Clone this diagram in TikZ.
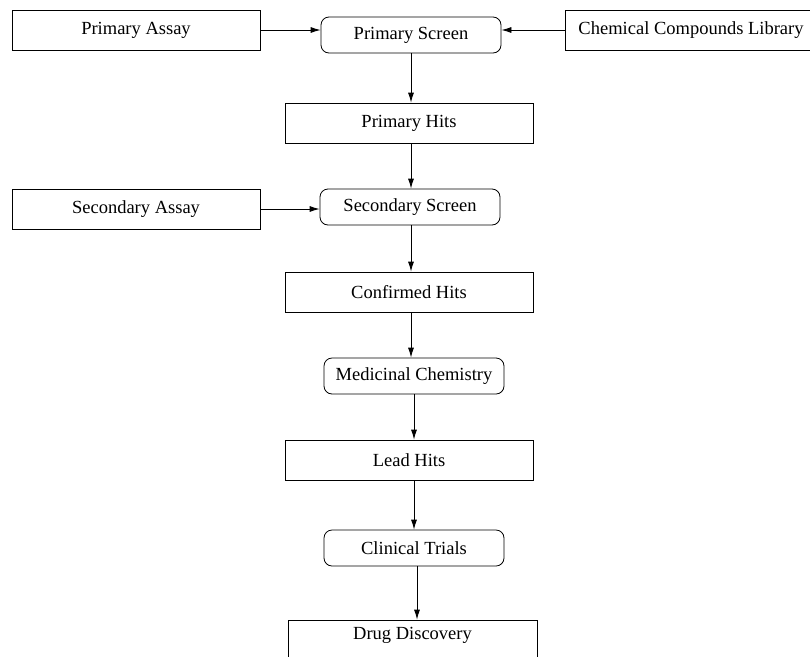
\documentclass[tikz,border=0pt]{standalone}
\usepackage{fontspec}
\setmainfont{Liberation Serif}
\usetikzlibrary{arrows.meta}
\tikzset{
  box/.style={draw, line width=0.8pt, minimum width=248pt, minimum height=40pt,
    inner sep=0pt, font=\fontsize{18.5}{20}\selectfont},
  stage/.style={box, rounded corners=8pt, minimum width=180pt, minimum height=36pt},
  flow/.style={line width=0.8pt, -{Latex[length=10pt,width=6pt]}}
}
\begin{document}
\begin{tikzpicture}[x=1pt, y=-1pt]
        \useasboundingbox (0, 0) rectangle (810, 656);
        \node[box] (passay) at (136, 30) {Primary Assay};
        \node[stage] (pscreen) at (411, 35) {Primary Screen};
        \node[box, minimum width=252pt] (library) at (691, 30) {Chemical Compounds Library};
        \node[box] (phits) at (409, 123) {Primary Hits};
        \node[box] (sassay) at (136, 209) {Secondary Assay};
        \node[stage] (sscreen) at (410, 207) {Secondary Screen};
        \node[box] (chits) at (409, 292) {Confirmed Hits};
        \node[stage] (medchem) at (414, 376) {Medicinal Chemistry};
        \node[box] (lhits) at (409, 460) {Lead Hits};
        \node[stage] (trials) at (414, 548) {Clinical Trials};
        \node[box, minimum width=249pt, text height=17pt, text depth=19pt] (drug) at (412.5, 640) {Drug Discovery};
        % inputs
        \draw[flow] (passay.east) -- (passay.east -| pscreen.west);
        \draw[flow] (library.west) -- (library.west -| pscreen.east);
        \draw[flow] (sassay.east) -- (sassay.east -| sscreen.west);
        % main line
        \draw[flow] (pscreen.south) -- (pscreen.south |- phits.north);
        \draw[flow] ([xshift=2pt]phits.south) -- ([xshift=2pt]phits.south |- sscreen.north);
        \draw[flow] ([xshift=1pt]sscreen.south) -- ([xshift=1pt]sscreen.south |- chits.north);
        \draw[flow] ([xshift=2pt]chits.south) -- ([xshift=2pt]chits.south |- medchem.north);
        \draw[flow] (medchem.south) -- (medchem.south |- lhits.north);
        \draw[flow] ([xshift=5pt]lhits.south) -- ([xshift=5pt]lhits.south |- trials.north);
        \draw[flow] ([xshift=3pt]trials.south) -- ([xshift=3pt]trials.south |- drug.north);
\end{tikzpicture}
\end{document}
